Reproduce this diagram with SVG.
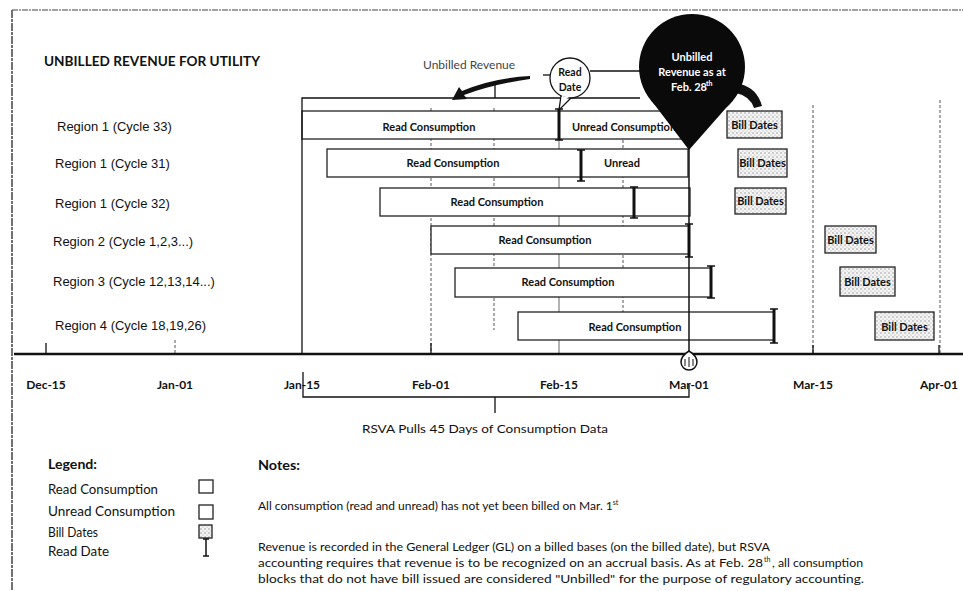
<svg xmlns="http://www.w3.org/2000/svg" width="963" height="591" viewBox="0 0 963 591">
<defs>
<pattern id="dots" width="4" height="4" patternUnits="userSpaceOnUse"><rect width="4" height="4" fill="#f4f4f4"/><circle cx="1" cy="1" r="0.7" fill="#888"/><circle cx="3" cy="3" r="0.6" fill="#aaa"/></pattern>
<style>
.bx{fill:#fff;stroke:#222;stroke-width:1.3}
.bill{fill:url(#dots);stroke:#222;stroke-width:1.3}
.lbl{font-family:"Liberation Sans",Arial,sans-serif;font-size:13px;fill:#111}
.rc{font-family:Lato,"Liberation Sans",sans-serif;font-size:11px;font-weight:bold;fill:#111;text-anchor:middle}
.ax{font-family:Lato,"Liberation Sans",sans-serif;font-size:12px;font-weight:bold;fill:#111;text-anchor:middle}
.tx{font-family:Lato,"Liberation Sans",sans-serif;font-size:13px;fill:#111}
.nt{font-family:Lato,"Liberation Sans",sans-serif;font-size:12px;fill:#111}
.sup{font-family:Lato,"Liberation Sans",sans-serif;font-size:7px;fill:#111}
.bar{stroke:#111;stroke-width:3;fill:none}
.cap{stroke:#111;stroke-width:1.5;fill:none}
.grid{stroke:#555;stroke-width:1;stroke-dasharray:3 2;fill:none}
.ln{stroke:#111;stroke-width:1.3;fill:none}
</style>
</defs>
<rect x="0" y="0" width="963" height="591" fill="#fff"/>
<g id="frame">
<line x1="12" y1="10" x2="963" y2="10" stroke="#444" stroke-width="1.2" stroke-dasharray="6 1 2 1"/>
<line x1="12" y1="10" x2="12" y2="591" stroke="#444" stroke-width="1.5" stroke-dasharray="8 1 3 1"/>
</g>
<g id="title"><text x="44" y="66" font-family="Lato,'Liberation Sans',sans-serif" font-size="13" font-weight="bold" fill="#111" textLength="216" lengthAdjust="spacingAndGlyphs">UNBILLED REVENUE FOR UTILITY</text></g>

<g id="gridlines">
<line class="grid" x1="431" y1="108" x2="431" y2="354"/>
<line class="grid" x1="494" y1="108" x2="494" y2="330"/>
<line x1="559" y1="140" x2="559" y2="354" stroke="#666" stroke-width="1"/>
<line class="grid" x1="623" y1="140" x2="623" y2="320"/>
<line class="grid" x1="813" y1="105" x2="813" y2="354"/>
<line class="grid" x1="940" y1="100" x2="940" y2="354"/>
<line class="grid" x1="175" y1="340" x2="175" y2="354"/>
</g>

<g id="region-labels">
<text class="lbl" x="57" y="131">Region 1 (Cycle 33)</text>
<text class="lbl" x="55" y="168">Region 1 (Cycle 31)</text>
<text class="lbl" x="55" y="208">Region 1 (Cycle 32)</text>
<text class="lbl" x="53" y="246">Region 2 (Cycle 1,2,3...)</text>
<text class="lbl" x="53" y="286">Region 3 (Cycle 12,13,14...)</text>
<text class="lbl" x="55" y="330">Region 4 (Cycle 18,19,26)</text>
</g>

<g id="row1">
<rect class="bx" x="302" y="111" width="257" height="28"/>
<rect class="bx" x="559" y="111" width="130" height="28"/>
<text class="rc" x="429" y="131">Read Consumption</text>
<text class="rc" x="624" y="131">Unread Consumption</text>
<line class="bar" x1="559" y1="109" x2="559" y2="140"/>
<line class="cap" x1="555" y1="109" x2="563" y2="109"/><line class="cap" x1="555" y1="140" x2="563" y2="140"/>
</g>
<g id="row2">
<rect class="bx" x="327" y="149" width="361" height="28"/>
<text class="rc" x="453" y="167">Read Consumption</text>
<text class="rc" x="622" y="167">Unread</text>
<line class="bar" x1="581" y1="150" x2="581" y2="181"/>
<line class="cap" x1="577" y1="150" x2="585" y2="150"/><line class="cap" x1="577" y1="181" x2="585" y2="181"/>
</g>
<g id="row3">
<rect class="bx" x="380" y="188" width="310" height="28"/>
<text class="rc" x="497" y="206">Read Consumption</text>
<line class="bar" x1="634" y1="187" x2="634" y2="218"/>
<line class="cap" x1="630" y1="187" x2="638" y2="187"/><line class="cap" x1="630" y1="218" x2="638" y2="218"/>
</g>
<g id="row4">
<rect class="bx" x="431" y="226" width="258" height="28"/>
<text class="rc" x="545" y="244">Read Consumption</text>
<line class="bar" x1="689" y1="224" x2="689" y2="257"/>
<line class="cap" x1="685" y1="224" x2="693" y2="224"/><line class="cap" x1="685" y1="257" x2="693" y2="257"/>
</g>
<g id="row5">
<rect class="bx" x="455" y="268" width="256" height="29"/>
<text class="rc" x="568" y="286">Read Consumption</text>
<line class="bar" x1="711" y1="266" x2="711" y2="298"/>
<line class="cap" x1="707" y1="266" x2="715" y2="266"/><line class="cap" x1="707" y1="298" x2="715" y2="298"/>
</g>
<g id="row6">
<rect class="bx" x="518" y="312" width="256" height="28"/>
<text class="rc" x="635" y="331">Read Consumption</text>
<line class="bar" x1="774" y1="309" x2="774" y2="343"/>
<line class="cap" x1="770" y1="309" x2="778" y2="309"/><line class="cap" x1="770" y1="343" x2="778" y2="343"/>
</g>

<g id="bill-dates">
<rect class="bill" x="727" y="111" width="55" height="27"/><text class="rc" x="754.5" y="129">Bill Dates</text>
<rect class="bill" x="738" y="149" width="49" height="28"/><text class="rc" x="762.5" y="167">Bill Dates</text>
<rect class="bill" x="735" y="188" width="51" height="26"/><text class="rc" x="760.5" y="205">Bill Dates</text>
<rect class="bill" x="825" y="226" width="51" height="27"/><text class="rc" x="850.5" y="244">Bill Dates</text>
<rect class="bill" x="840" y="267" width="55" height="29"/><text class="rc" x="867.5" y="286">Bill Dates</text>
<rect class="bill" x="875" y="312" width="59" height="28"/><text class="rc" x="904.5" y="331">Bill Dates</text>
</g>

<g id="connectors">
<polyline class="ln" points="302,354 302,98 640,98"/>
<line class="ln" x1="495" y1="83" x2="495" y2="98"/>
<path d="M530,76 Q492,78 462,91 L459,87 L452,100 L467,99 L464,95 Q494,84 530,79 Z" fill="#111"/>
<line class="ln" x1="590" y1="71" x2="642" y2="71"/>
<line class="ln" x1="543" y1="75" x2="550" y2="75"/>
<line x1="689" y1="148" x2="689" y2="352" stroke="#111" stroke-width="1.5"/>
<path d="M740,84 Q757,88 762,106 L754,108 Q750,96 736,93 Z" fill="#111"/>
<polyline class="ln" points="303,372 303,397 689,397 689,385"/>
<line class="ln" x1="495" y1="397" x2="495" y2="413" stroke-width="2"/>
</g>

<g id="read-date-balloon">
<path d="M561,96 L559,110 L571,98" fill="#fff" stroke="#111" stroke-width="1.3"/>
<circle cx="570" cy="78" r="20" fill="#fff" stroke="#111" stroke-width="1.3"/>
<path d="M562,96 L561,102 L569,97 Z" fill="#fff"/>
<text class="rc" x="570" y="76" style="font-size:10.5px">Read</text>
<text class="rc" x="570" y="91" style="font-size:10.5px">Date</text>
</g>

<g id="unbilled-label"><text x="423" y="69" font-family="Lato,'Liberation Sans',sans-serif" font-size="12" fill="#444">Unbilled Revenue</text></g>

<g id="unbilled-bubble">
<circle cx="692" cy="67" r="53" fill="#0a0a0a"/>
<polygon points="651,100 689,150 733,100" fill="#0a0a0a"/>
<text class="rc" x="692" y="61" style="fill:#fff">Unbilled</text>
<text class="rc" x="692" y="76" style="fill:#fff">Revenue as at</text>
<text class="rc" x="689" y="91" style="fill:#fff">Feb. 28</text>
<text x="706" y="86" style="font-family:Lato,'Liberation Sans',sans-serif;font-size:7px;font-weight:bold;fill:#fff">th</text>
</g>

<g id="axis">
<line x1="14" y1="354" x2="963" y2="354" stroke="#111" stroke-width="2.5"/>
<line class="ln" x1="46" y1="343" x2="46" y2="354"/>
<line class="ln" x1="431" y1="343" x2="431" y2="354"/>
<line class="ln" x1="813" y1="345" x2="813" y2="354"/>
<line class="ln" x1="939" y1="345" x2="939" y2="354"/>
<text class="ax" x="46" y="389">Dec-15</text>
<text class="ax" x="175" y="389">Jan-01</text>
<text class="ax" x="302" y="389">Jan-15</text>
<text class="ax" x="431" y="389">Feb-01</text>
<text class="ax" x="559" y="389">Feb-15</text>
<text class="ax" x="689" y="389">Mar-01</text>
<text class="ax" x="813" y="389">Mar-15</text>
<text class="ax" x="939" y="389">Apr-01</text>
</g>
<g id="mar01-marker">
<path d="M689,351 Q697,356 697,362 A8,8 0 0 1 681,362 Q681,356 689,351 Z" fill="#fff" stroke="#111" stroke-width="1.5"/>
<path d="M685,359 L685,366 M689,357 L689,367 M693,359 L693,366" stroke="#111" stroke-width="1"/>
</g>

<g id="rsva-label"><text x="485" y="433" font-family="Lato,'Liberation Sans',sans-serif" font-size="12" fill="#111" text-anchor="middle" textLength="246" lengthAdjust="spacingAndGlyphs">RSVA Pulls 45 Days of Consumption Data</text></g>

<g id="legend">
<text class="tx" x="48" y="469" font-weight="bold" textLength="49" lengthAdjust="spacingAndGlyphs">Legend:</text>
<text class="tx" x="48" y="494" textLength="110" lengthAdjust="spacingAndGlyphs">Read Consumption</text>
<text class="tx" x="48" y="516" textLength="127" lengthAdjust="spacingAndGlyphs">Unread Consumption</text>
<text class="tx" x="48" y="537" textLength="50" lengthAdjust="spacingAndGlyphs">Bill Dates</text>
<text class="tx" x="48" y="556" textLength="61" lengthAdjust="spacingAndGlyphs">Read Date</text>
<rect class="bx" x="199" y="480" width="14" height="13"/>
<rect class="bx" x="199" y="505" width="14" height="14"/>
<rect class="bill" x="199" y="525" width="13" height="13"/>
<line x1="206" y1="539" x2="206" y2="556" stroke="#111" stroke-width="1.5"/>
<line class="cap" x1="203" y1="539" x2="209" y2="539"/><line class="cap" x1="203" y1="556" x2="209" y2="556"/>
</g>

<g id="notes">
<text class="tx" x="258" y="470" font-weight="bold" textLength="42" lengthAdjust="spacingAndGlyphs">Notes:</text>
<text class="nt" x="258" y="510">All consumption (read and unread) has not yet been billed on Mar. 1<tspan style="font-size:7px" dy="-5">st</tspan></text>
<text class="nt" x="258" y="551" textLength="512" lengthAdjust="spacingAndGlyphs">Revenue is recorded in the General Ledger (GL) on a billed bases (on the billed date), but RSVA</text>
<text class="nt" x="258" y="567" textLength="505" lengthAdjust="spacingAndGlyphs">accounting requires that revenue is to be recognized on an accrual basis. As at Feb. 28</text>
<text class="sup" x="764" y="562">th</text>
<text class="nt" x="772" y="567" textLength="91" lengthAdjust="spacingAndGlyphs">, all consumption</text>
<text class="nt" x="258" y="583" textLength="606" lengthAdjust="spacingAndGlyphs">blocks that do not have bill issued are considered "Unbilled" for the purpose of regulatory accounting.</text>
</g>
</svg>
